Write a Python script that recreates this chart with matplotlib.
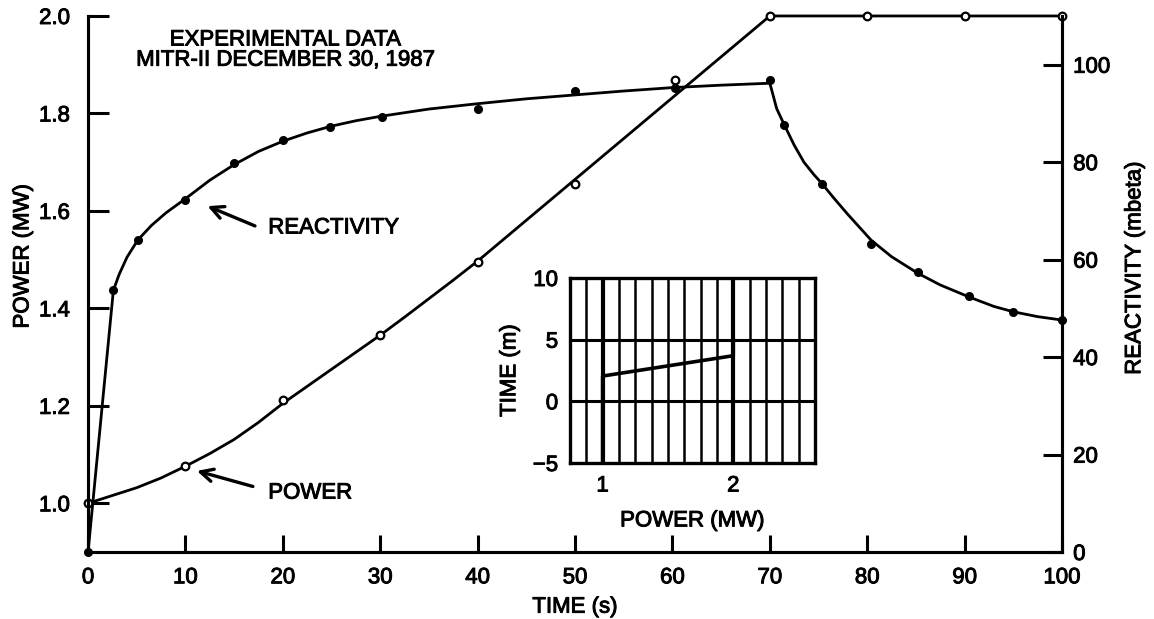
import numpy as np
import matplotlib
matplotlib.use('Agg')
import matplotlib.pyplot as plt
import matplotlib.patheffects as pe

plt.rcParams['font.family'] = ['Liberation Sans', 'DejaVu Sans']

## Data
# power, measured points (open circles), MW
pow_t = [0, 10, 20, 30, 40, 50, 60.3, 70, 80, 90, 100]
pow_mw = [1.0, 1.076, 1.212, 1.345, 1.495, 1.655, 1.868, 2.0, 2.0, 2.0, 2.0]
# power, drawn curve
powc_t = [0, 2.5, 5, 7.5, 10, 12.5, 15, 17.5, 20, 22.5, 25, 27.5, 30, 32.5, 35, 37.5, 40, 70, 100]
powc_mw = [1.0, 1.016, 1.032, 1.052, 1.076, 1.102, 1.131, 1.166, 1.205, 1.24, 1.275, 1.31,
           1.345, 1.382, 1.42, 1.458, 1.497, 2.0, 2.0]

# reactivity, measured points (filled circles), mbeta
rho_t = [0, 2.6, 5.1, 10, 15, 20, 24.8, 30.2, 40, 50, 60.3, 70, 71.5, 75.4, 80.4, 85.2, 90.5, 95, 100]
rho_mb = [0, 53.7, 64, 72.2, 79.8, 84.5, 87.2, 89.2, 90.9, 94.6, 95.3, 96.8, 87.6, 75.5, 63.2, 57.4, 52.5, 49.2, 47.6]
# reactivity, drawn curve
rhoc_t = [0, 2.6, 3.2, 4, 5.1, 6.5, 8, 10, 12.5, 15, 17.5, 20, 22.5, 25, 27.5, 30, 35, 40, 45, 50,
          55, 60, 65, 70, 70.3, 70.7, 71.5, 72.5, 73.5, 74.5, 75.4, 76.5, 78, 80.4, 82.5, 85.2,
          87.5, 90.5, 93, 95, 97.5, 100]
rhoc_mb = [0, 53.7, 57, 60.5, 64, 67, 69.6, 72.5, 76.3, 79.5, 82.2, 84.3, 86, 87.4, 88.5, 89.4, 90.9,
           92.0, 93, 93.8, 94.6, 95.3, 95.8, 96.2, 94, 91, 87.6, 83.5, 80, 77.5, 75.5, 72.8, 69.3,
           64, 60.6, 57.2, 54.8, 52.3, 50.4, 49.3, 48.3, 47.6]

# inset strip chart
ins_p = [1, 1, 2, 2]
ins_m = [-5, 2.05, 3.7, 5.0]

xticks = np.arange(0, 101, 10)
pticks = [1.0, 1.2, 1.4, 1.6, 1.8, 2.0]
rticks = [0, 20, 40, 60, 80, 100]

FS = 16
# scanned print: slightly heavier strokes on all text
heavy = [pe.withStroke(linewidth=0.7, foreground='black')]

fig = plt.figure(figsize=(11.54, 6.19), dpi=100)
ax = fig.add_axes([0.0763, 0.1082, 0.8440, 0.8660])
ax2 = ax.twinx()

ax.set_xlim(0, 100)
ax.set_ylim(0.9, 2.0)
ax2.set_ylim(0, 110)

ax.plot(powc_t, powc_mw, color='black', lw=2.0, clip_on=False, zorder=3)
ax.plot(pow_t, pow_mw, 'o', ms=5.5, mfc='white', mec='black', mew=1.6, clip_on=False, zorder=4)
ax2.plot(rhoc_t, rhoc_mb, color='black', lw=2.0, clip_on=False, zorder=3)
ax2.plot(rho_t, rho_mb, 'o', ms=5.5, color='black', clip_on=False, zorder=4)

for a in (ax, ax2):
    a.spines['top'].set_visible(False)
    for s in a.spines.values():
        s.set_linewidth(2.2)

ax.set_xticks(xticks)
ax.set_yticks(pticks)
ax.set_yticklabels(['%.1f' % v for v in pticks])
ax2.set_yticks(rticks)
ax.tick_params(axis='both', direction='in', width=2.2, labelsize=FS)
ax.tick_params(axis='y', length=15, pad=13)
ax.tick_params(axis='x', length=12, pad=11)
ax2.tick_params(axis='y', direction='in', length=14, width=2.2, pad=8, labelsize=FS)

ax.set_xlabel('TIME (s)', fontsize=FS, labelpad=6)
ax.set_ylabel('POWER (MW)', fontsize=FS, labelpad=4, y=0.552)
ax2.set_ylabel('REACTIVITY (mbeta)', fontsize=FS, labelpad=10, y=0.530)

ax.text(20.3, 1.93, 'EXPERIMENTAL DATA\nMITR-II DECEMBER 30, 1987', fontsize=FS,
        ha='center', va='center', linespacing=0.95)

arw = dict(arrowstyle='->,head_length=0.9,head_width=0.45', lw=2.4, color='black')
ax.annotate('', xy=(12.0, 1.612), xytext=(17.4, 1.567), arrowprops=arw)
ax.text(18.5, 1.565, 'REACTIVITY', fontsize=FS, ha='left', va='center')
ax.annotate('', xy=(10.9, 1.068), xytext=(17.2, 1.033), arrowprops=arw)
ax.text(18.5, 1.021, 'POWER', fontsize=FS, ha='left', va='center')

## Inset
axi = fig.add_axes([0.4939, 0.2520, 0.2123, 0.2989])
axi.set_xlim(0.75, 2.625)
axi.set_ylim(-5, 10)
for xv in np.arange(0.875, 2.6, 0.125):
    axi.axvline(xv, color='black', lw=3.0 if abs(xv - round(xv)) < 1e-6 else 1.8)
for yv in [0, 5]:
    axi.axhline(yv, color='black', lw=2.2)
axi.plot(ins_p, ins_m, color='black', lw=2.6)
for s in axi.spines.values():
    s.set_linewidth(2.4)
axi.set_xticks([1, 2])
axi.set_yticks([-5, 0, 5, 10])
axi.tick_params(length=0, labelsize=FS)
axi.tick_params(axis='x', pad=9)
axi.tick_params(axis='y', pad=8.5)
axi.set_xlabel('POWER (MW)', fontsize=FS, labelpad=10)
axi.set_ylabel('TIME (m)', fontsize=FS, labelpad=9)

for t in fig.findobj(matplotlib.text.Text):
    t.set_path_effects(heavy)

fig.savefig('out.png', dpi=100)
